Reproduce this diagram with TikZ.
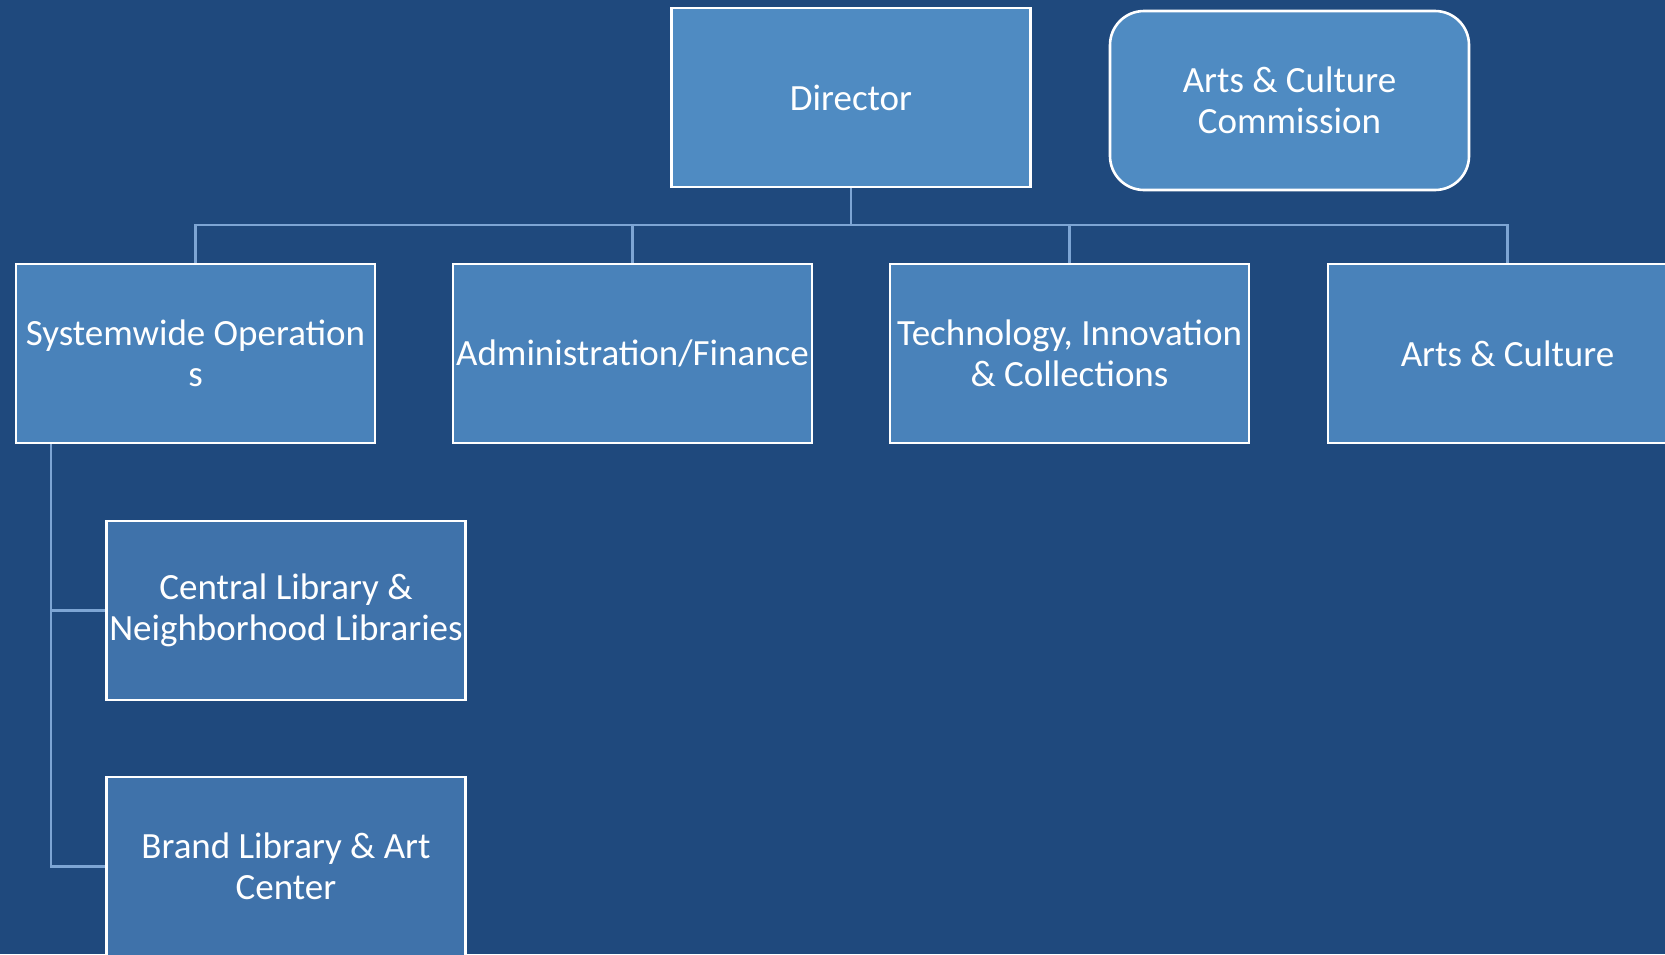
\documentclass[tikz,border=0pt]{standalone}
\usepackage{fontspec}
\setmainfont{Carlito}
\definecolor{bg}{RGB}{31,73,125}
\definecolor{boxa}{RGB}{79,139,194}
\definecolor{boxb}{RGB}{73,130,186}
\definecolor{boxc}{RGB}{63,114,170}
\definecolor{conn}{RGB}{125,165,212}
\begin{document}
\begin{tikzpicture}[x=1pt,y=-1pt,
  unit/.style={draw=white,line width=2.6pt,minimum width=359pt,minimum height=179pt,
    inner sep=0pt,align=center,text=white,font=\fontsize{37}{41.5}\selectfont},
  top/.style={unit,fill=boxa},
  mid/.style={unit,fill=boxb},
  low/.style={unit,fill=boxc},
  link/.style={draw=conn,line width=2.4pt}]
\fill[bg] (0,0) rectangle (1665,954);
\useasboundingbox (0,0) rectangle (1665,954);
\node[top] (dir) at (851,97.5) {Director};
\node[top,rounded corners=34pt] (acc) at (1289.5,100.5) {Arts \& Culture\\Commission};
\node[mid] (sys) at (195.5,353.5) {Systemwide Operation\\s};
\node[mid] (adm) at (632.5,353.5) {Administration/Finance};
\node[mid] (tec) at (1069.5,353.5) {Technology, Innovation\\\& Collections};
\node[mid] (art) at (1507.5,353.5) {Arts \& Culture};
\node[low] (cen) at (286,610.5) {Central Library \&\\Neighborhood Libraries};
\node[low] (bra) at (286,866.5) {Brand Library \& Art\\Center};
\coordinate (bus) at (851,225);
\draw[link] (dir.south) -- (bus);
\draw[link] (sys.north) |- (bus) -| (art.north);
\draw[link] (adm.north) -- (adm.north |- bus);
\draw[link] (tec.north) -- (tec.north |- bus);
\coordinate (sp) at (51,444);
\draw[link] (sp) |- (bra.west);
\draw[link] (sp |- cen.west) -- (cen.west);
\end{tikzpicture}
\end{document}
